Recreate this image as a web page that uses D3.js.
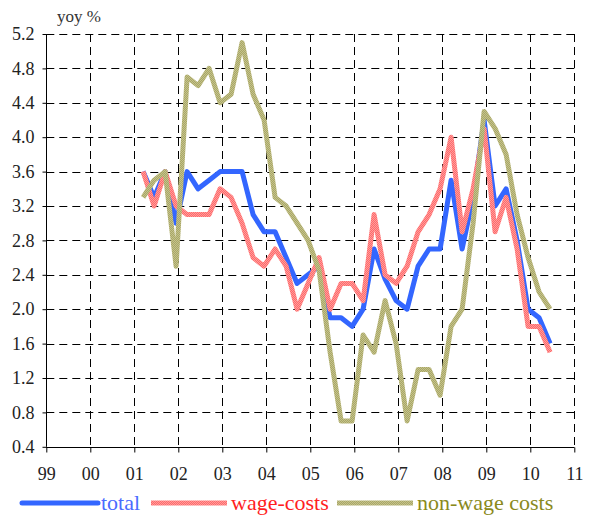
<!DOCTYPE html>
<html>
<head>
<meta charset="utf-8">
<script src="https://cdn.jsdelivr.net/npm/d3@7"></script>
<style>
  html, body { margin: 0; padding: 0; background: #fff; }
</style>
</head>
<body>
<div id="root"></div>
<script>
// quarters, 2001Q1 .. 2010Q2
const quarters = [
  '01Q1','01Q2','01Q3','01Q4','02Q1','02Q2','02Q3','02Q4',
  '03Q1','03Q2','03Q3','03Q4','04Q1','04Q2','04Q3','04Q4',
  '05Q1','05Q2','05Q3','05Q4','06Q1','06Q2','06Q3','06Q4',
  '07Q1','07Q2','07Q3','07Q4','08Q1','08Q2','08Q3','08Q4',
  '09Q1','09Q2','09Q3','09Q4','10Q1','10Q2'
]

const total = [
  3.6, 3.3, 3.6, 3.0, 3.6, 3.4, 3.5, 3.6,
  3.6, 3.6, 3.1, 2.9, 2.9, 2.6, 2.3, 2.4,
  2.5, 1.9, 1.9, 1.8, 2.0, 2.7, 2.35, 2.1,
  2.0, 2.5, 2.7, 2.7, 3.5, 2.7, 3.3, 4.2,
  3.2, 3.4, 2.8, 2.0, 1.9, 1.6
]

const wageCosts = [
  3.6, 3.2, 3.6, 3.2, 3.1, 3.1, 3.1, 3.4,
  3.3, 3.0, 2.6, 2.5, 2.7, 2.5, 2.0, 2.3,
  2.6, 2.0, 2.3, 2.3, 2.1, 3.1, 2.4, 2.3,
  2.5, 2.9, 3.1, 3.4, 4.0, 2.9, 3.4, 4.1,
  2.9, 3.3, 2.7, 1.8, 1.8, 1.5
]

const nonWageCosts = [
  3.3, 3.5, 3.6, 2.5, 4.7, 4.6, 4.8, 4.4,
  4.5, 5.1, 4.5, 4.2, 3.3, 3.2, 3.0, 2.8,
  2.45, 1.5, 0.7, 0.7, 1.7, 1.5, 2.1, 1.6,
  0.7, 1.3, 1.3, 1.0, 1.8, 2.0, 3.0, 4.3,
  4.1, 3.8, 3.1, 2.6, 2.2, 2.0
]

const years = [1999, 2000, 2001, 2002, 2003, 2004, 2005, 2006, 2007, 2008, 2009, 2010, 2011]
const yTicks = [0.4, 0.8, 1.2, 1.6, 2.0, 2.4, 2.8, 3.2, 3.6, 4.0, 4.4, 4.8, 5.2]

const seriesNames = ['total', 'wage-costs', 'non-wage costs']
const seriesValues = [total, wageCosts, nonWageCosts]
const lineColors = ['#3366ff', '#ff7f7f', '#b6b478']
const textColors = ['#4a6cff', '#ff1f1f', '#8a8a1c']

const serifFont = 'Liberation Serif'
const w = 598, h = 516
const plotLeft = 46.3, plotRight = 574.3, plotTop = 34, plotBottom = 446.8

// quarter -> fractional year (points sit a little after quarter start)
function qTime(q) {
  return 2000 + (+q.slice(0, 2)) + (+q.slice(3) - 1) * 0.25 + 0.2
}

const x = d3.scaleLinear().domain([1999, 2011]).range([plotLeft, plotRight])
const y = d3.scaleLinear().domain([0.4, 5.2]).range([plotBottom, plotTop])

const svg = d3.select('#root')
  .append('svg')
  .attr('width', w)
  .attr('height', h)

// textured strokes for the two light series
const defs = svg.append('defs')
function texture(id, base, light) {
  const p = defs.append('pattern')
    .attr('id', id)
    .attr('patternUnits', 'userSpaceOnUse')
    .attr('width', 2).attr('height', 2)
  p.append('rect').attr('width', 2).attr('height', 2).attr('fill', base)
  p.append('rect').attr('width', 1).attr('height', 1).attr('fill', light)
  p.append('rect').attr('x', 1).attr('y', 1).attr('width', 1).attr('height', 1).attr('fill', light)
}
texture('texRed', '#ff6a6a', '#ff9c9c')
texture('texOlive', '#a9a766', '#c4c28c')
const strokes = [lineColors[0], 'url(#texRed)', 'url(#texOlive)']

// dashed grid
svg.append('g')
  .selectAll('line')
  .data(yTicks)
  .enter()
  .append('line')
  .attr('x1', plotLeft).attr('x2', plotRight + 1)
  .attr('y1', d => Math.round(y(d)) + 0.5)
  .attr('y2', d => Math.round(y(d)) + 0.5)
  .attr('stroke', '#000')
  .attr('stroke-dasharray', '8,5')

svg.append('g')
  .selectAll('line')
  .data(years.slice(1))
  .enter()
  .append('line')
  .attr('x1', d => Math.round(x(d)) + 0.5)
  .attr('x2', d => Math.round(x(d)) + 0.5)
  .attr('y1', plotTop).attr('y2', plotBottom)
  .attr('stroke', '#000')
  .attr('stroke-dasharray', '8,5')

// axes
const yAxis = svg.append('g')
  .attr('transform', 'translate(' + (Math.round(plotLeft) + 0.5) + ',0)')
  .call(d3.axisLeft(y).tickValues(yTicks).tickFormat(d3.format('.1f')).tickSize(4).tickPadding(8))

const xAxis = svg.append('g')
  .attr('transform', 'translate(0,' + (Math.round(plotBottom) + 0.5) + ')')
  .call(d3.axisBottom(x).tickValues(years).tickFormat(d => String(d).slice(-2)).tickSize(5).tickPadding(15))

yAxis.attr('font-family', serifFont).attr('font-size', 18)
xAxis.attr('font-family', serifFont).attr('font-size', 18)
svg.selectAll('.domain').attr('stroke', '#000')
svg.selectAll('.tick line').attr('stroke', '#000')
svg.selectAll('.tick text')
  .style('font-family', serifFont)
  .style('font-size', '18px')
  .attr('fill', '#222')
yAxis.select('.domain').attr('d', 'M0,' + plotTop + 'V' + plotBottom)
xAxis.select('.domain').attr('d', 'M' + plotLeft + ',0H' + plotRight)

svg.append('text')
  .attr('x', 57)
  .attr('y', 22)
  .style('font-family', serifFont)
  .style('font-size', '17px')
  .attr('fill', '#333')
  .text('yoy %')

// series
const line = d3.line()
  .x((d, i) => x(qTime(quarters[i])))
  .y(d => y(d))

svg.append('g')
  .selectAll('path')
  .data(seriesValues)
  .enter()
  .append('path')
  .attr('d', line)
  .attr('fill', 'none')
  .attr('stroke', (d, i) => strokes[i])
  .attr('stroke-width', 5)
  .attr('stroke-linejoin', 'round')

// legend
const legendX = [22, 151, 337]
const legend = svg.append('g')
  .selectAll('g')
  .data(seriesNames)
  .enter()
  .append('g')
  .attr('transform', (d, i) => 'translate(' + legendX[i] + ',503)')

legend.append('line')
  .attr('x1', 0).attr('x2', 76)
  .attr('stroke', (d, i) => strokes[i])
  .attr('stroke-width', 5)
  .attr('stroke-linecap', (d, i) => i === 0 ? 'round' : 'butt')

legend.append('text')
  .attr('x', (d, i) => i === 0 ? 79 : 80)
  .attr('y', 7)
  .style('font-family', serifFont)
  .style('font-size', '22px')
  .attr('fill', (d, i) => textColors[i])
  .text(d => d)
</script>
</body>
</html>
